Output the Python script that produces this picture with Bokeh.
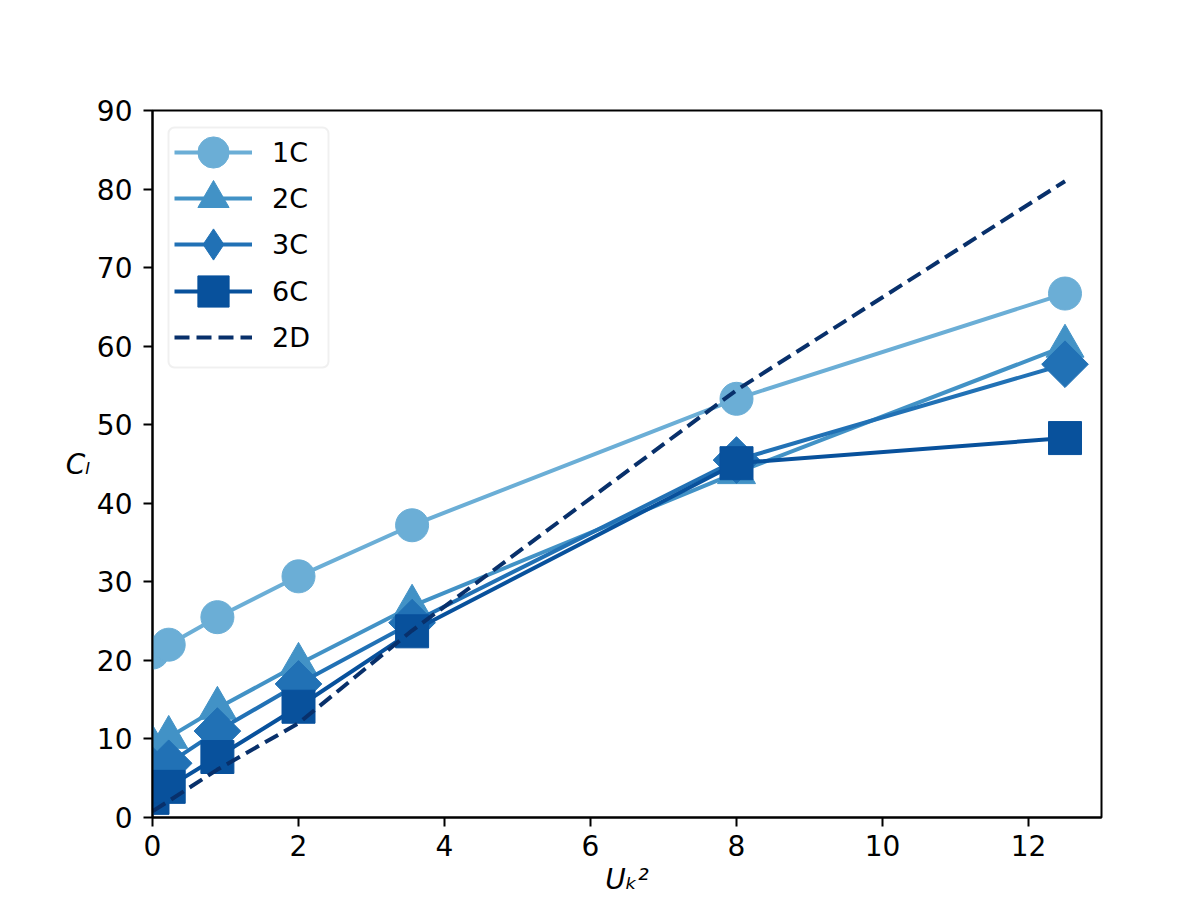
import math
from bokeh.plotting import figure
from bokeh.models import (Legend, LegendItem, Range1d, FixedTicker, BoxAnnotation)
from bokeh.embed import file_html
from bokeh.resources import INLINE

# ---- data ----
x_vals = [0.0, 0.222, 0.889, 2.0, 3.556, 8.0, 12.5]
c1 = [21.0, 22.0, 25.5, 30.7, 37.2, 53.3, 66.7]
c2 = [9.0, 10.2, 13.9, 19.5, 26.9, 43.9, 60.0]
c3 = [6.0, 6.9, 11.0, 17.0, 24.8, 45.5, 57.7]
c6 = [2.5, 3.9, 7.7, 14.1, 23.7, 45.1, 48.3]
d2 = [0.8, 2.1, 6.1, 12.0, 23.8, 54.4, 81.0]
series_names = ["1C", "2C", "3C", "6C", "2D"]
x_ticks = [0, 2, 4, 6, 8, 10, 12]
y_ticks = [0, 10, 20, 30, 40, 50, 60, 70, 80, 90]
x_title = "U\u2096\u00b2"
y_title = "C\u2097"

colors = ["#6baed6", "#4292c6", "#2171b5", "#08519c", "#08306b"]
FONT = "DejaVu Sans"

W, H = 1180, 900
BL, BR, BT, BB = 152, 79, 110, 83
FRAME_H = H - BT - BB

p = figure(width=W, height=H, output_backend="svg", toolbar_location=None,
           x_range=Range1d(0, 13), y_range=Range1d(0, 90),
           min_border_left=BL, min_border_right=BR, min_border_top=BT,
           min_border_bottom=BB)
p.xgrid.visible = False
p.ygrid.visible = False
p.outline_line_color = "black"
p.outline_line_width = 2
p.outline_line_alpha = 1
p.background_fill_color = "white"
p.border_fill_color = "white"

for ax, ticks in ((p.xaxis[0], x_ticks), (p.yaxis[0], y_ticks)):
    ax.ticker = FixedTicker(ticks=ticks)
    ax.minor_tick_line_color = None
    ax.major_tick_out = 9
    ax.major_tick_in = 0
    ax.major_tick_line_width = 2
    ax.axis_line_width = 2
    ax.axis_line_color = "black"
    ax.major_tick_line_color = "black"
    ax.major_label_text_font = FONT
    ax.major_label_text_font_size = "28px"
    ax.major_label_text_color = "black"
    ax.axis_label_text_font = FONT
    ax.axis_label_text_font_size = "28px"
    ax.axis_label_text_font_style = "italic"
    ax.axis_label_text_color = "black"

p.xaxis[0].major_label_standoff = 8
p.yaxis[0].major_label_standoff = 11
p.xaxis[0].axis_label = x_title
p.xaxis[0].axis_label_standoff = 4
p.yaxis[0].axis_label = y_title
p.yaxis[0].axis_label_standoff = 4
try:
    p.yaxis[0].axis_label_orientation = "horizontal"
    p.yaxis[0].axis_label_text_baseline = "bottom"
except Exception:
    pass

lw = 4
msize = 33
r1l = p.line(x_vals, c1, color=colors[0], line_width=lw)
r1m = p.scatter(x_vals, c1, marker="circle", size=msize, color=colors[0])
r2l = p.line(x_vals, c2, color=colors[1], line_width=lw)
r2m = p.scatter(x_vals, c2, marker="triangle", size=38, color=colors[1])
r3l = p.line(x_vals, c3, color=colors[2], line_width=lw)
r3m = p.scatter(x_vals, c3, marker="square", size=msize, angle=math.pi / 4, color=colors[2])
r6l = p.line(x_vals, c6, color=colors[3], line_width=lw)
r6m = p.scatter(x_vals, c6, marker="square", size=msize, color=colors[3])
rdl = p.line(x_vals, d2, color=colors[4], line_width=lw, line_dash="15 7")

# legend-only proxy so the 3C legend row shows a diamond (legend ignores marker angle)
nan = float("nan")
r3proxy = p.scatter([nan], [nan], marker="diamond", size=msize, color=colors[2])

# legend frame (screen px relative to the plot frame, y up)
box = BoxAnnotation(left=16, right=176, bottom=FRAME_H - 257, top=FRAME_H - 17,
                    left_units="screen", right_units="screen",
                    bottom_units="screen", top_units="screen",
                    fill_color="white", fill_alpha=0.8,
                    line_color="#cccccc", line_width=2, border_radius=6)
p.add_layout(box)

# one legend per row so the row pitch can be smaller than the glyph box
GH, GW = 84, 78
first_row, pitch = 41.7, 46.3
row_renderers = [[r1l, r1m], [r2l, r2m], [r3l, r3proxy], [r6l, r6m], [rdl]]
for i, (name, rends) in enumerate(zip(series_names, row_renderers)):
    centre = first_row + pitch * i
    lg = Legend(items=[LegendItem(label=name, renderers=rends)],
                location=(22, round(FRAME_H - centre - GH / 2)),
                padding=0, spacing=0, margin=0,
                glyph_height=GH, glyph_width=GW,
                label_standoff=20, label_text_font=FONT,
                label_text_font_size="27px", label_text_color="black",
                border_line_color=None, background_fill_alpha=0)
    p.add_layout(lg)

open("out.html", "w").write(file_html(p, INLINE))
